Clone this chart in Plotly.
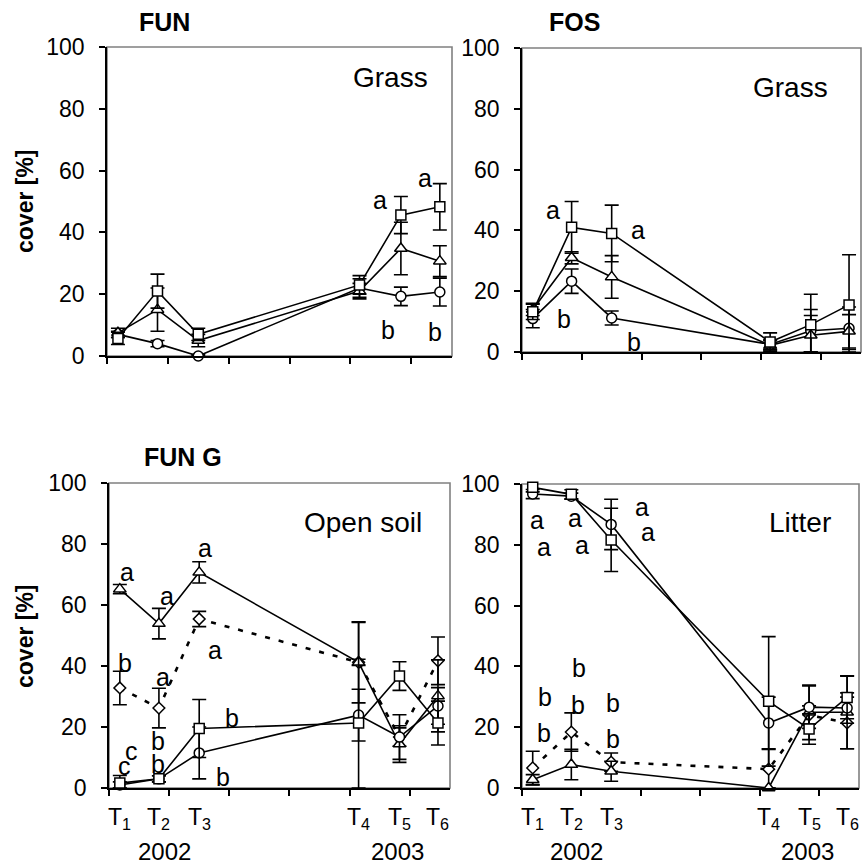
import plotly.graph_objects as go

W, H = 866, 865
FONT = "Arial, Liberation Sans, Helvetica, sans-serif"

# ---------------- data ----------------
x_pos = [0.18, 0.83, 1.5, 4.15, 4.83, 5.47]
t_labels = ["T<sub>1</sub>", "T<sub>2</sub>", "T<sub>3</sub>",
            "T<sub>4</sub>", "T<sub>5</sub>", "T<sub>6</sub>"]
year_labels = ["2002", "2003"]
year_pos = [0.92, 4.8]
y_ticks = [0, 20, 40, 60, 80, 100]

# FUN - Grass
fun_grass_square = [5.7, 21.0, 7.0, 23.0, 45.6, 48.3]
fun_grass_square_err = [2.0, 5.5, 2.0, 3.0, 6.0, 7.5]
fun_grass_triangle = [7.5, 15.0, 5.0, 21.0, 34.8, 30.7]
fun_grass_triangle_err = [1.5, 7.0, 2.0, 2.5, 8.5, 5.0]
fun_grass_circle = [7.0, 4.0, 0.0, 22.0, 19.3, 20.7]
fun_grass_circle_err = [1.0, 1.0, 0.5, 3.0, 3.0, 4.5]

# FOS - Grass
fos_grass_square = [13.2, 41.0, 39.0, 3.3, 9.0, 15.5]
fos_grass_square_err = [2.5, 8.5, 9.3, 3.0, 10.0, 16.5]
fos_grass_triangle = [14.0, 31.0, 24.7, 2.2, 5.5, 6.8]
fos_grass_triangle_err = [2.0, 2.0, 7.0, 1.5, 6.5, 5.5]
fos_grass_circle = [11.0, 23.3, 11.2, 2.5, 7.0, 7.8]
fos_grass_circle_err = [3.0, 4.0, 2.3, 1.5, 7.0, 7.0]

# FUN G - Open soil
soil_triangle = [65.2, 53.9, 70.7, 41.2, 14.4, 30.2]
soil_triangle_err = [1.5, 5.0, 3.5, 13.3, 6.0, 11.8]
soil_diamond = [32.8, 26.2, 55.4, 41.2, 16.7, 41.7]
soil_diamond_err = [5.5, 6.5, 2.5, 1.0, 3.0, 7.8]
soil_square = [1.6, 3.0, 19.5, 21.3, 36.7, 21.3]
soil_square_err = [2.5, 1.0, 9.5, 33.0, 4.7, 7.2]
soil_circle = [1.0, 3.0, 11.5, 23.9, 16.7, 26.9]
soil_circle_err = [1.0, 1.0, 8.5, 8.5, 7.3, 6.0]

# Litter
litter_square = [98.9, 96.6, 81.6, 28.5, 19.4, 29.8]
litter_square_err = [1.5, 1.5, 10.4, 21.3, 5.0, 7.0]
litter_circle = [96.7, 96.0, 86.7, 21.4, 26.6, 26.3]
litter_circle_err = [1.5, 1.0, 8.3, 8.5, 7.0, 5.0]
litter_triangle = [2.7, 7.7, 5.5, 0.0, 24.9, 24.9]
litter_triangle_err = [1.7, 5.0, 3.3, 0.0, 9.0, 12.0]
litter_diamond = [6.6, 18.4, 8.5, 6.2, 24.0, 21.4]
litter_diamond_err = [5.5, 6.3, 3.0, 6.5, 3.0, 8.5]

# ---------------- layout helpers ----------------
panels = {
    # name: (x0px, x1px, y_top_px, y_bottom_px)
    "1": (107, 452, 47, 356),
    "2": (522, 861, 48, 352),
    "3": (109, 450, 483, 788),
    "4": (522, 859, 484, 788),
}

fig = go.Figure()

SIZES = {"square": 10, "triangle-up": 11, "circle": 10, "diamond": 9}


def add_series(ax, y, err, symbol, dotted=False):
    minus = [min(e, v) for e, v in zip(err, y)]
    line = dict(color="black", width=1.6)
    if dotted:
        line = dict(color="black", width=2.6, dash="5px,9px")
    xa = "x" if ax == "1" else "x" + ax
    ya = "y" if ax == "1" else "y" + ax
    fig.add_trace(go.Scatter(
        x=x_pos, y=y, xaxis=xa, yaxis=ya, mode="lines+markers",
        line=line, cliponaxis=False, showlegend=False,
        marker=dict(symbol=symbol, size=SIZES[symbol], color="white",
                    line=dict(color="black", width=1.5)),
        error_y=dict(type="data", symmetric=False, array=err, arrayminus=minus,
                     color="black", thickness=1.6, width=7),
    ))


add_series("1", fun_grass_circle, fun_grass_circle_err, "circle")
add_series("1", fun_grass_triangle, fun_grass_triangle_err, "triangle-up")
add_series("1", fun_grass_square, fun_grass_square_err, "square")

add_series("2", fos_grass_circle, fos_grass_circle_err, "circle")
add_series("2", fos_grass_triangle, fos_grass_triangle_err, "triangle-up")
add_series("2", fos_grass_square, fos_grass_square_err, "square")

add_series("3", soil_diamond, soil_diamond_err, "diamond", dotted=True)
add_series("3", soil_triangle, soil_triangle_err, "triangle-up")
add_series("3", soil_circle, soil_circle_err, "circle")
add_series("3", soil_square, soil_square_err, "square")

add_series("4", litter_diamond, litter_diamond_err, "diamond", dotted=True)
add_series("4", litter_triangle, litter_triangle_err, "triangle-up")
add_series("4", litter_circle, litter_circle_err, "circle")
add_series("4", litter_square, litter_square_err, "square")

layout = dict(
    width=W, height=H,
    margin=dict(l=0, r=0, t=0, b=0, pad=0, autoexpand=False),
    paper_bgcolor="white", plot_bgcolor="white",
    font=dict(family=FONT, color="black"),
    showlegend=False,
)
shapes = []
for k, (x0, x1, yt, yb) in panels.items():
    xname = "xaxis" if k == "1" else "xaxis" + k
    yname = "yaxis" if k == "1" else "yaxis" + k
    xr = "x" if k == "1" else "x" + k
    yr = "y" if k == "1" else "y" + k
    layout[xname] = dict(
        domain=[x0 / W, x1 / W], range=[0, 5.67], anchor=yr,
        tickvals=[0, 1, 2, 3, 4, 5], showticklabels=False,
        ticks="outside", ticklen=6, tickwidth=1.5, tickcolor="black",
        showline=True, linecolor="black", linewidth=1.6,
        showgrid=False, zeroline=False, fixedrange=True, automargin=False,
    )
    layout[yname] = dict(
        domain=[1 - yb / H, 1 - yt / H], range=[0, 100], anchor=xr,
        tickvals=y_ticks, ticks="outside", ticklen=6, tickwidth=1.5,
        tickcolor="black", tickfont=dict(size=23, family=FONT, color="black"),
        ticklabelstandoff=10,
        showline=True, linecolor="black", linewidth=1.6,
        showgrid=False, zeroline=False, fixedrange=True, automargin=False,
    )
    shapes.append(dict(type="rect", xref=xr + " domain", yref=yr + " domain",
                       x0=0, x1=1, y0=0, y1=1, layer="below",
                       line=dict(color="#808080", width=1.6)))
layout["shapes"] = shapes

annotations = []


def ann(text, px, py, size, bold=False, angle=0):
    if bold:
        text = "<b>" + text + "</b>"
    annotations.append(dict(text=text, x=px / W, y=1 - py / H, xref="paper",
                            yref="paper", showarrow=False, xanchor="center",
                            yanchor="middle", textangle=angle, borderpad=0,
                            font=dict(size=size, family=FONT, color="black")))


# panel titles
ann("FUN", 164, 22, 25, bold=True)
ann("FOS", 574, 22, 25, bold=True)
ann("FUN G", 183, 457, 25, bold=True)
ann("cover [%]", 25, 201, 23, bold=True, angle=-90)
ann("cover [%]", 25, 636, 23, bold=True, angle=-90)

# panel labels
ann("Grass", 390, 77, 28)
ann("Grass", 790, 87, 28)
ann("Open soil", 363, 522, 28)
ann("Litter", 800, 522, 28)

# significance letters
letters = [
    ("a", 380, 200), ("a", 425, 178), ("b", 388, 330), ("b", 435, 332),
    ("a", 553, 210), ("a", 638, 230), ("b", 564, 319), ("b", 634, 342),
    ("a", 127, 572), ("a", 167, 596), ("a", 205, 548), ("a", 215, 650),
    ("b", 125, 663), ("a", 163, 677), ("b", 158, 741), ("c", 131, 751),
    ("c", 125, 766), ("b", 158, 764), ("b", 232, 718), ("b", 223, 777),
    ("a", 537, 520), ("a", 544, 547), ("a", 575, 518), ("a", 582, 545),
    ("a", 642, 507), ("a", 648, 532), ("b", 579, 668), ("b", 545, 697),
    ("b", 578, 705), ("b", 613, 703), ("b", 544, 733), ("b", 613, 739),
]
for t, px, py in letters:
    ann(t, px, py, 25)

# T labels and years for bottom panels
for xr, yr in (("x3", "y3"), ("x4", "y4")):
    for xv, lab in zip(x_pos, t_labels):
        annotations.append(dict(text=lab, x=xv, y=0, xref=xr, yref=yr + " domain",
                                yshift=-30, showarrow=False, xanchor="center",
                                yanchor="middle", borderpad=0,
                                font=dict(size=23, family=FONT, color="black")))
    for xv, lab in zip(year_pos, year_labels):
        annotations.append(dict(text=lab, x=xv, y=0, xref=xr, yref=yr + " domain",
                                yshift=-63, showarrow=False, xanchor="center",
                                yanchor="middle", borderpad=0,
                                font=dict(size=24, family=FONT, color="black")))

layout["annotations"] = annotations
fig.update_layout(**layout)
fig.write_html(
    "out.html",
    config={"displayModeBar": False},
    post_script="document.body.style.margin='0';document.body.style.overflow='hidden';",
)
